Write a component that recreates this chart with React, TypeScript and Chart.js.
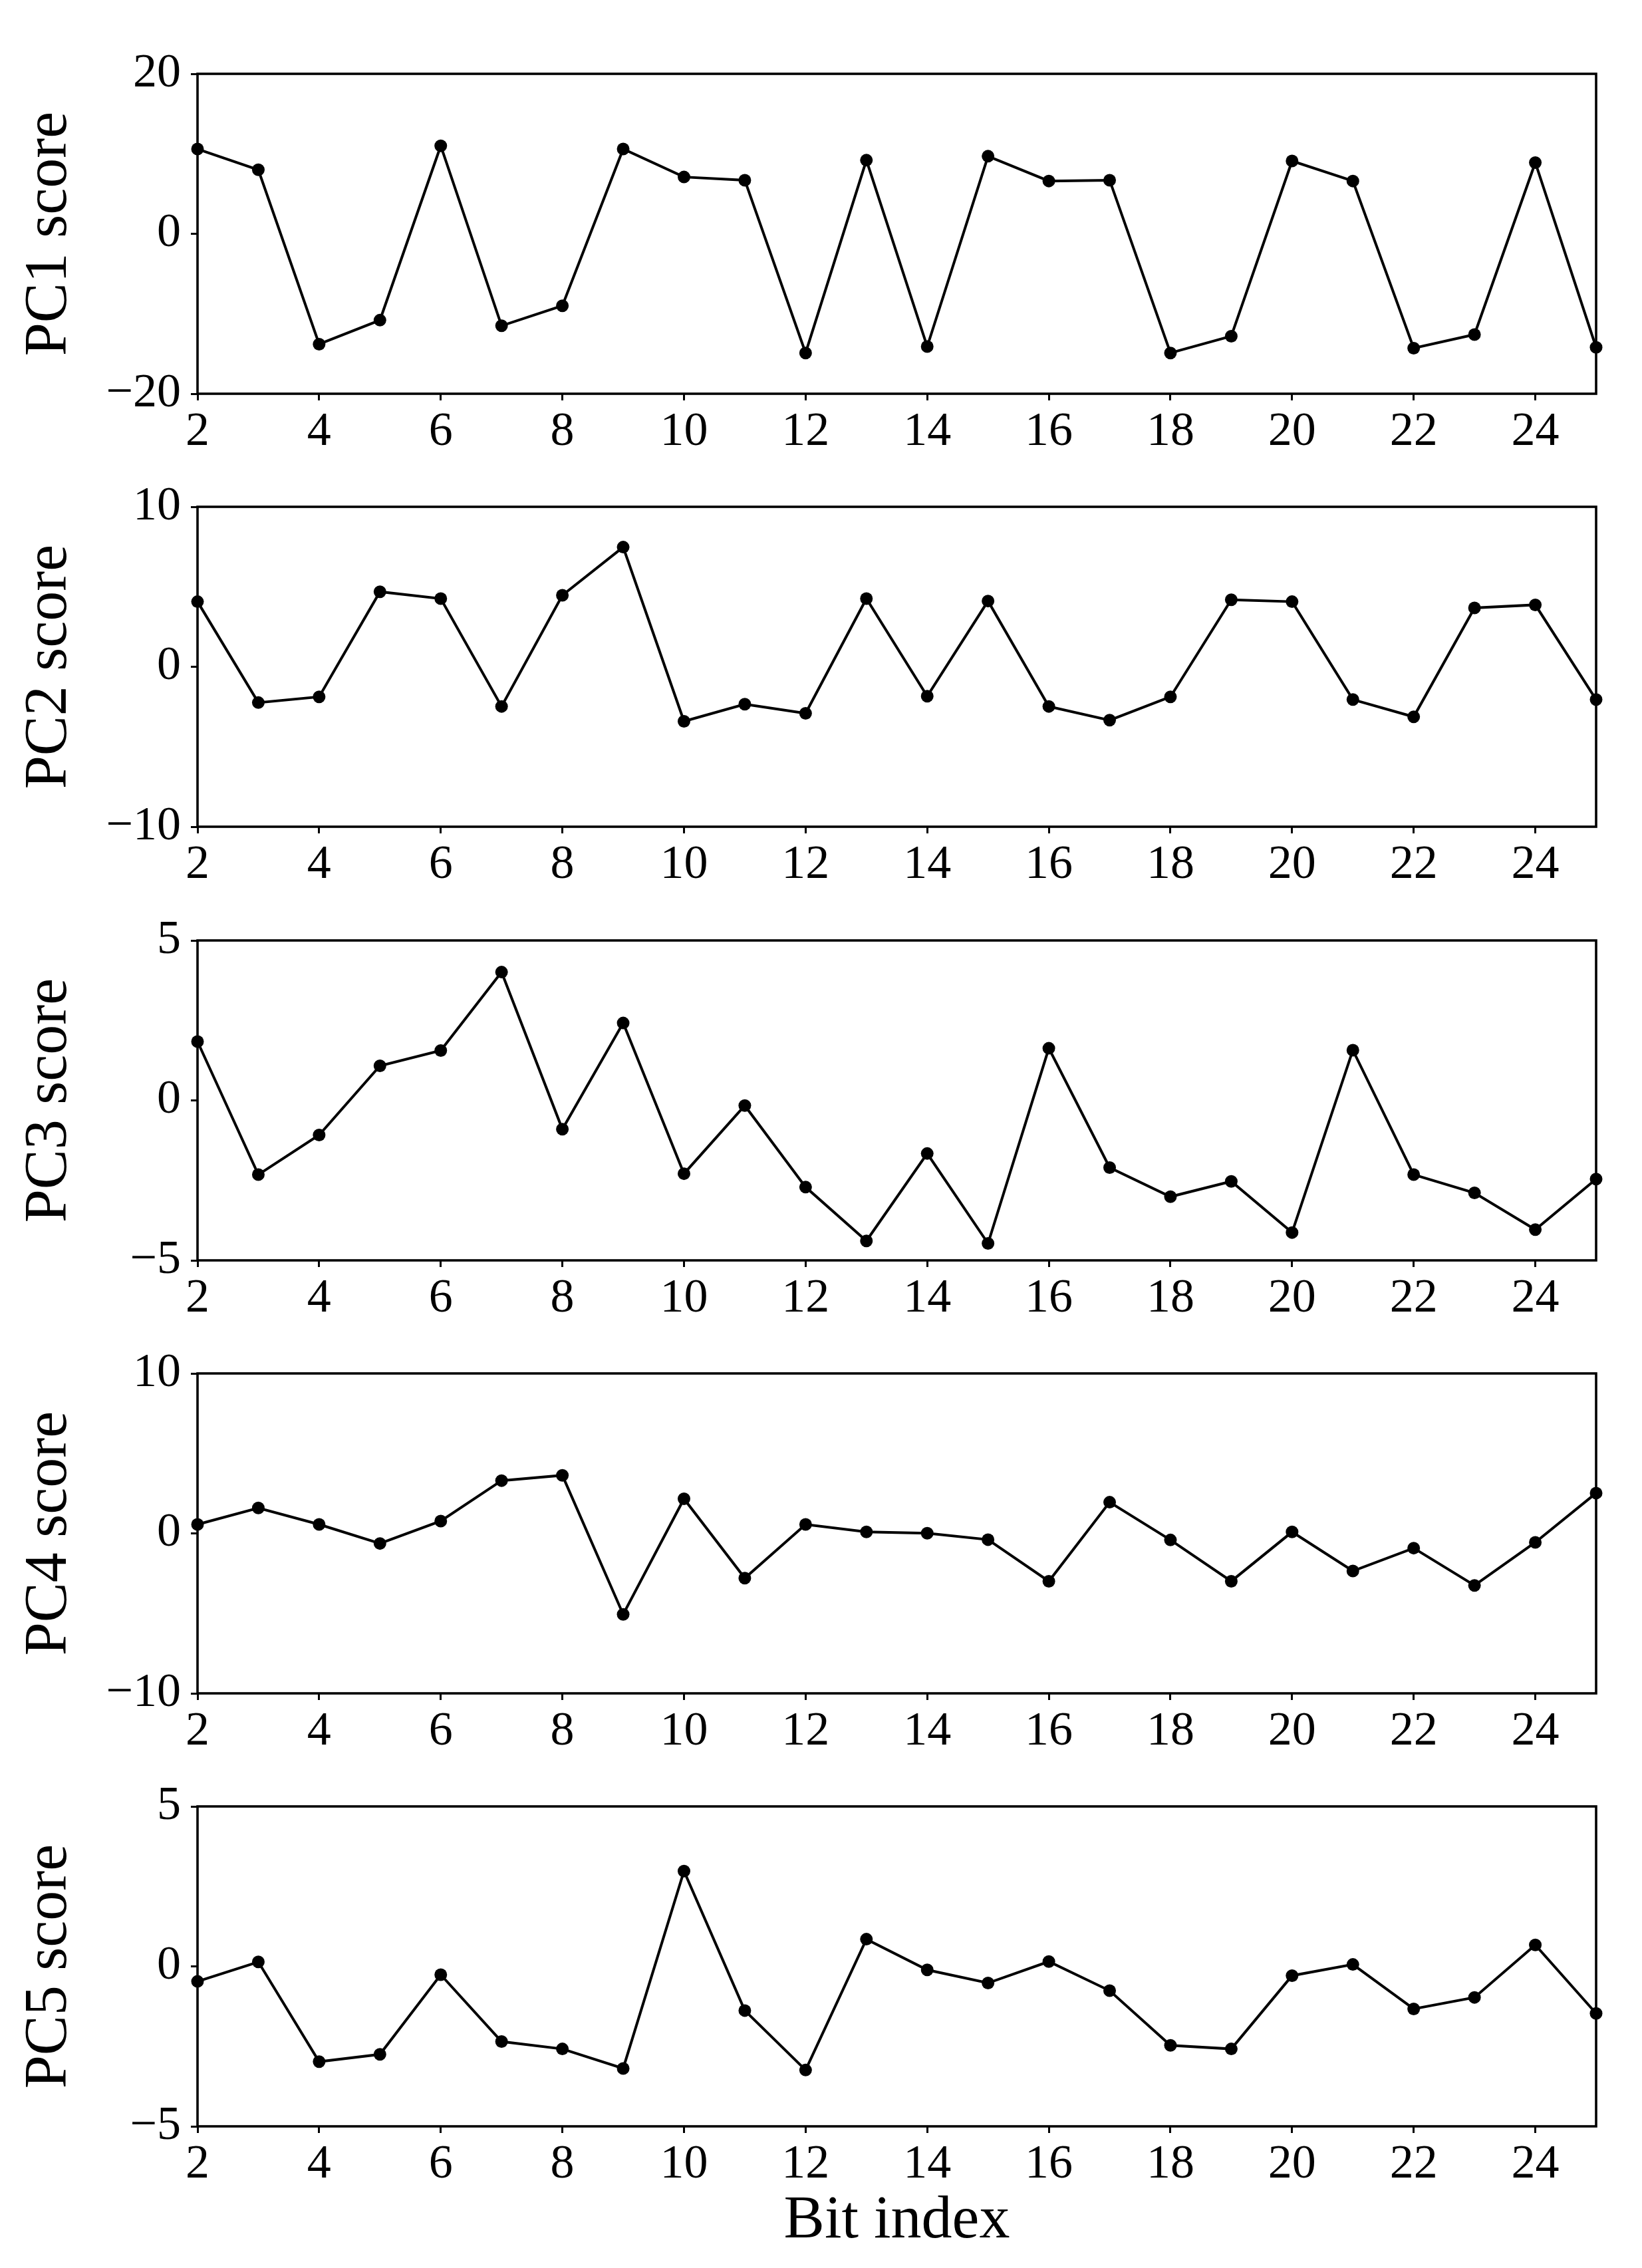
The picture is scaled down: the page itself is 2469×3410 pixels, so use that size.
import React, { useEffect, useRef } from "react";
import { Chart, registerables } from "chart.js";

Chart.register(...registerables);

// ---- Data ----
const bitIndex = [2, 3, 4, 5, 6, 7, 8, 9, 10, 11, 12, 13, 14, 15, 16, 17, 18, 19, 20, 21, 22, 23, 24, 25];

const pc1Scores = [10.6, 8.0, -13.8, -10.8, 11.0, -11.5, -9.0, 10.6, 7.1, 6.7, -14.9, 9.2, -14.1, 9.7, 6.6, 6.7, -14.9, -12.8, 9.1, 6.6, -14.3, -12.6, 8.9, -14.2];
const pc2Scores = [4.07, -2.24, -1.88, 4.69, 4.26, -2.48, 4.47, 7.48, -3.41, -2.34, -2.91, 4.26, -1.84, 4.11, -2.48, -3.34, -1.88, 4.19, 4.07, -2.05, -3.13, 3.68, 3.87, -2.05];
const pc3Scores = [1.84, -2.32, -1.08, 1.08, 1.56, 4.01, -0.9, 2.42, -2.29, -0.16, -2.71, -4.39, -1.66, -4.47, 1.63, -2.1, -3.01, -2.53, -4.13, 1.57, -2.32, -2.89, -4.04, -2.46];
const pc4Scores = [0.56, 1.59, 0.56, -0.63, 0.77, 3.3, 3.63, -5.06, 2.16, -2.8, 0.56, 0.09, 0.01, -0.39, -2.99, 1.95, -0.41, -2.99, 0.09, -2.35, -0.92, -3.25, -0.56, 2.52];
const pc5Scores = [-0.47, 0.14, -2.98, -2.75, -0.26, -2.35, -2.58, -3.19, 2.98, -1.38, -3.24, 0.85, -0.11, -0.52, 0.15, -0.76, -2.47, -2.58, -0.29, 0.06, -1.33, -0.97, 0.67, -1.47];

const xTickValues = [2, 4, 6, 8, 10, 12, 14, 16, 18, 20, 22, 24];
const pc1Ticks = [-20, 0, 20];
const pc2Ticks = [-10, 0, 10];
const pc3Ticks = [-5, 0, 5];
const pc4Ticks = [-10, 0, 10];
const pc5Ticks = [-5, 0, 5];

const panelLabels = ["PC1 score", "PC2 score", "PC3 score", "PC4 score", "PC5 score"];
const xAxisLabel = "Bit index";

// ---- Layout ----
const PAGE_W = 2469;
const PAGE_H = 3410;
const PLOT_LEFT = 297;
const PLOT_RIGHT = 2400;
const FIRST_TOP = 111;
const PANEL_STEP = 651.25;
const PLOT_H = 481;
const PAD_TOP = 60;
const FONT = "'Liberation Serif', 'Times New Roman', Times, serif";

const framePlugin = {
  id: "frameBox",
  beforeDatasetsDraw(chart: any) {
    const { ctx, chartArea } = chart;
    ctx.save();
    ctx.strokeStyle = "#000";
    ctx.lineWidth = 3.6;
    ctx.strokeRect(chartArea.left, chartArea.top, chartArea.right - chartArea.left, chartArea.bottom - chartArea.top);
    ctx.restore();
  },
};

type PanelProps = {
  label: string;
  values: number[];
  yTicks: number[];
  top: number;
  showXTitle: boolean;
};

function Panel({ label, values, yTicks, top, showXTitle }: PanelProps) {
  const ref = useRef<HTMLCanvasElement | null>(null);
  const plotTop = Math.round(top);
  const canvasTop = plotTop - PAD_TOP;
  const bottomH = showXTitle ? PAGE_H - (plotTop + PLOT_H) : 100;
  const canvasH = PAD_TOP + PLOT_H + bottomH;

  useEffect(() => {
    if (!ref.current) return;
    const fmt = (v: number) => (v < 0 ? "\u2212" + Math.abs(v) : String(v));
    const chart = new Chart(ref.current, {
      type: "line",
      data: {
        datasets: [
          {
            data: bitIndex.map((x, i) => ({ x, y: values[i] })),
            borderColor: "#000",
            borderWidth: 4,
            pointRadius: 9.5,
            pointBackgroundColor: "#000",
            pointBorderColor: "#000",
            pointBorderWidth: 0,
            tension: 0,
            clip: false as any,
          },
        ],
      },
      options: {
        animation: false,
        responsive: false,
        devicePixelRatio: 1,
        layout: { padding: { left: 0, top: PAD_TOP, right: PAGE_W - PLOT_RIGHT, bottom: 0 } },
        plugins: { legend: { display: false }, tooltip: { enabled: false } },
        scales: {
          x: {
            type: "linear",
            min: bitIndex[0],
            max: bitIndex[bitIndex.length - 1],
            afterBuildTicks: (s: any) => {
              s.ticks = xTickValues.map((v) => ({ value: v }));
            },
            afterFit: (s: any) => {
              s.height = bottomH;
            },
            grid: {
              display: true,
              drawOnChartArea: false,
              drawTicks: true,
              tickLength: 10,
              tickWidth: 3,
              tickColor: "#000",
            },
            border: { display: false },
            ticks: {
              color: "#000",
              font: { family: FONT, size: 72 },
              padding: 5,
              maxRotation: 0,
              minRotation: 0,
              autoSkip: false,
              callback: (v: any) => fmt(Number(v)),
            },
            title: {
              display: showXTitle,
              text: xAxisLabel,
              color: "#000",
              font: { family: FONT, size: 92 },
              padding: { top: 0, bottom: 15 },
            },
          },
          y: {
            type: "linear",
            min: yTicks[0],
            max: yTicks[yTicks.length - 1],
            afterBuildTicks: (s: any) => {
              s.ticks = yTicks.map((v) => ({ value: v }));
            },
            afterFit: (s: any) => {
              s.width = PLOT_LEFT;
            },
            grid: {
              display: true,
              drawOnChartArea: false,
              drawTicks: true,
              tickLength: 10,
              tickWidth: 3,
              tickColor: "#000",
            },
            border: { display: false },
            ticks: {
              color: "#000",
              font: { family: FONT, size: 72 },
              padding: 15,
              autoSkip: false,
              callback: (v: any) => fmt(Number(v)),
            },
            title: {
              display: true,
              text: label,
              color: "#000",
              font: { family: FONT, size: 90 },
              padding: { top: 21, bottom: 0 },
            },
          },
        },
      },
      plugins: [framePlugin],
    });
    return () => chart.destroy();
  }, [label, values, yTicks, bottomH]);

  return (
    <canvas
      ref={ref}
      width={PAGE_W}
      height={canvasH}
      style={{ position: "absolute", left: 0, top: canvasTop, width: PAGE_W, height: canvasH, display: "block" }}
    />
  );
}

const panelValues = [pc1Scores, pc2Scores, pc3Scores, pc4Scores, pc5Scores];
const panelTicks = [pc1Ticks, pc2Ticks, pc3Ticks, pc4Ticks, pc5Ticks];

export default function App() {
  return (
    <div style={{ position: "absolute", left: 0, top: 0, width: PAGE_W, height: PAGE_H, background: "#fff" }}>
      {panelLabels.map((label, i) => (
        <Panel
          key={label}
          label={label}
          values={panelValues[i]}
          yTicks={panelTicks[i]}
          top={FIRST_TOP + i * PANEL_STEP}
          showXTitle={i === panelLabels.length - 1}
        />
      ))}
    </div>
  );
}
